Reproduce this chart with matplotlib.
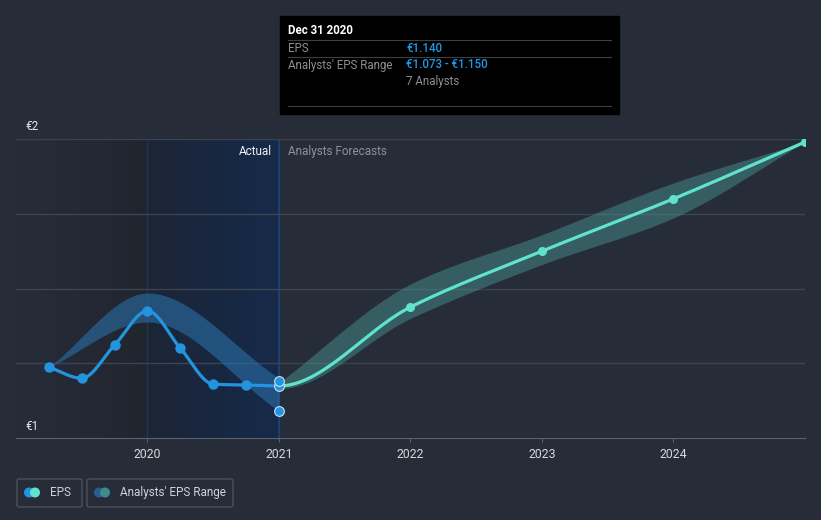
import matplotlib
matplotlib.use("Agg")
import matplotlib.pyplot as plt
import numpy as np
from matplotlib.patches import FancyBboxPatch, Rectangle, Circle

plt.rcParams["font.family"] = ["Roboto", "DejaVu Sans"]

# ---- data (decimal years, EUR) ----
hist_x = [2019.25, 2019.5, 2019.75, 2020.0, 2020.25, 2020.5, 2020.75, 2021.0]
hist_eps = [1.237, 1.200, 1.311, 1.425, 1.300, 1.180, 1.177, 1.174]

hist_band_x = [2019.25, 2020.0, 2021.0]
hist_band_hi = [1.237, 1.485, 1.200]
hist_band_lo = [1.237, 1.388, 1.090]

fc_x = [2021.0, 2022.0, 2023.0, 2024.0, 2025.0]
fc_eps = [1.174, 1.438, 1.625, 1.800, 1.990]
fc_hi = [1.185, 1.515, 1.680, 1.853, 1.990]
fc_lo = [1.165, 1.400, 1.580, 1.736, 1.990]

year_ticks = [2020, 2021, 2022, 2023, 2024]

BG = "#262c38"
BLUE = "#2394df"
TEAL = "#5fe3cd"


def monotone(x, y, n=60):
    """Monotone cubic (Fritsch-Carlson) sampled between the knots."""
    x = np.asarray(x, float)
    y = np.asarray(y, float)
    h = np.diff(x)
    d = np.diff(y) / h
    m = np.zeros_like(y)
    for i in range(1, len(y) - 1):
        if d[i - 1] * d[i] <= 0:
            m[i] = 0.0
        else:
            w1 = 2 * h[i] + h[i - 1]
            w2 = h[i] + 2 * h[i - 1]
            m[i] = (w1 + w2) / (w1 / d[i - 1] + w2 / d[i])
    m[0] = d[0]
    m[-1] = d[-1]
    xs, ys = [], []
    for i in range(len(h)):
        t = np.linspace(0, 1, n)
        h00 = 2 * t**3 - 3 * t**2 + 1
        h10 = t**3 - 2 * t**2 + t
        h01 = -2 * t**3 + 3 * t**2
        h11 = t**3 - t**2
        xs.append(x[i] + t * h[i])
        ys.append(h00 * y[i] + h10 * h[i] * m[i] + h01 * y[i + 1] + h11 * h[i] * m[i + 1])
    return np.concatenate(xs), np.concatenate(ys)


fig = plt.figure(figsize=(8.21, 5.20), dpi=100, facecolor=BG)
ax = fig.add_axes([16 / 821, 1 - 438 / 520, 789 / 821, 299 / 520])
ax.set_facecolor(BG)
ax.set_xlim(2019.0, 2025.0)
ax.set_ylim(1.0, 2.0)

# shaded "past" regions
g = np.linspace(0, 1, 200) ** 1.5
c0 = np.array([0x26, 0x2c, 0x38]) / 255
c1 = np.array([0x20, 0x24, 0x2d]) / 255
dark = (c0[None, :] * (1 - g[:, None]) + c1[None, :] * g[:, None])[None, :, :]
ax.imshow(dark, extent=[2019.0, 2020.0, 1.0, 2.0], aspect="auto", zorder=0)
g2 = np.linspace(0, 1, 200)
b0 = np.array([0x1b, 0x25, 0x36]) / 255
b1 = np.array([0x16, 0x2a, 0x4a]) / 255
blue = (b0[None, :] * (1 - g2[:, None]) + b1[None, :] * g2[:, None])[None, :, :]
ax.imshow(blue, extent=[2020.0, 2021.0, 1.0, 2.0], aspect="auto", zorder=0)
ax.axvline(2020.0, color="#1e3556", lw=1, zorder=1)
ax.axvline(2021.0, color="#1f4473", lw=1.2, zorder=1)

for yv in [1.25, 1.5, 1.75, 2.0]:
    ax.axhline(yv, color="#3d4350", lw=1, zorder=1)

# bands
bx, bh = monotone(hist_band_x, hist_band_hi)
_, bl = monotone(hist_band_x, hist_band_lo)
ax.fill_between(bx, bl, bh, color="#2b6fa8", alpha=0.6, lw=0, zorder=2)
fx, fh = monotone(fc_x, fc_hi)
# lower edge continues the curve of the last actual quarter
lx, ll = monotone([hist_x[-2]] + fc_x, [hist_eps[-2]] + fc_lo)
keep = lx >= fc_x[0]
fl = np.interp(fx, lx[keep], ll[keep])
ax.fill_between(fx, fl, fh, color="#4a9a96", alpha=0.45, lw=0, zorder=2)

# lines
hx, hy = monotone(hist_x, hist_eps)
ax.plot(hx, hy, color=BLUE, lw=2.3, zorder=3, solid_capstyle="round")
ax.plot(hist_x[:-1], hist_eps[:-1], "o", color=BLUE, ms=6.5, zorder=4)
cx, cy = monotone([hist_x[-2]] + fc_x, [hist_eps[-2]] + fc_eps)
keep = cx >= fc_x[0]
ax.plot(cx[keep], cy[keep], color=TEAL, lw=2.3, zorder=3, solid_capstyle="round")
ax.plot(fc_x[1:], fc_eps[1:], "o", color=TEAL, ms=5.5, zorder=4)

# highlighted Dec 2020 points
ax.plot([fc_x[0]] * 3, [hist_band_lo[-1], hist_eps[-1], hist_band_hi[-1] - 0.01], "o",
        color=BLUE, mec="#cfe0f0", mew=0.8, ms=7, zorder=5)

# axes styling
for s in ["top", "right", "left"]:
    ax.spines[s].set_visible(False)
ax.spines["bottom"].set_color("#5b6170")
ax.set_yticks([])
ax.set_xticks(year_ticks)
ax.set_xticklabels([str(y) for y in year_ticks], color="#d8d8d8", fontsize=8.8)
ax.tick_params(axis="x", length=3, color="#5b6170", pad=4)

fig.text(25 / 821, 1 - 127 / 520, "€2", color="#e6e6e6", fontsize=8.5, va="center")
fig.text(25 / 821, 1 - 427 / 520, "€1", color="#e6e6e6", fontsize=8.5, va="center")
fig.text(272 / 821, 1 - 151 / 520, "Actual", color="#f0f0f0", fontsize=8.5, va="center", ha="right")
fig.text(288 / 821, 1 - 151 / 520, "Analysts Forecasts", color="#8c929c", fontsize=8.5, va="center")

# tooltip
fig.patches.append(Rectangle((280 / 821, 1 - 114 / 520), 339 / 821, 98 / 520,
                             transform=fig.transFigure, color="#000000", zorder=10))
for yy in [40, 57, 106]:
    fig.lines.append(plt.Line2D([288 / 821, 611 / 821], [1 - yy / 520] * 2,
                                transform=fig.transFigure, color="#3f3f3f", lw=0.8, zorder=11))
tt = dict(fontsize=8.3, va="center", zorder=12)
fig.text(288 / 821, 1 - 31 / 520, "Dec 31 2020", color="white", fontweight="bold", **tt)
fig.text(288 / 821, 1 - 48 / 520, "EPS", color="#8f8f8f", **tt)
fig.text(406 / 821, 1 - 48 / 520, "€1.140", color="#2196e8", fontweight="medium", **tt)
fig.text(288 / 821, 1 - 65 / 520, "Analysts' EPS Range", color="#8f8f8f", **tt)
fig.text(406 / 821, 1 - 65 / 520, "€1.073 - €1.150", color="#2196e8", fontweight="medium", **tt)
fig.text(406 / 821, 1 - 81 / 520, "7 Analysts", color="#8f8f8f", **tt)

# legend
for x0, w in [(17, 65), (87, 146)]:
    fig.patches.append(FancyBboxPatch((x0 / 821, 1 - 507 / 520), w / 821, 28 / 520,
                                      boxstyle="round,pad=0,rounding_size=0.003",
                                      transform=fig.transFigure, fc="none",
                                      ec="#4a505c", lw=1))
lax = fig.add_axes([0, 0, 1, 1], facecolor="none")
lax.set_xlim(0, 821)
lax.set_ylim(520, 0)
lax.axis("off")
for cxp, col in [(29, BLUE), (35, TEAL), (99, "#2a5e8e"), (105, "#3f8c8a")]:
    lax.add_patch(Circle((cxp, 492.5), 4.3, color=col))
fig.text(50 / 821, 1 - 492.5 / 520, "EPS", color="#cfd2d6", fontsize=8.5, va="center")
fig.text(120 / 821, 1 - 492.5 / 520, "Analysts' EPS Range", color="#cfd2d6", fontsize=8.5, va="center")

fig.savefig("out.png", dpi=100, facecolor=BG)
